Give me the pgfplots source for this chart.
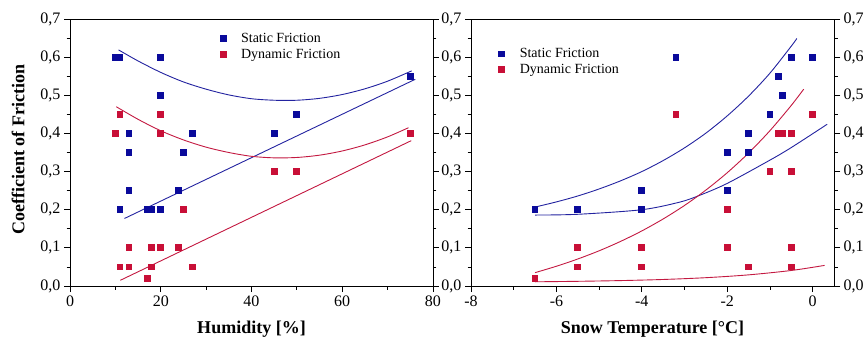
\documentclass[border=0pt]{standalone}
\usepackage{fontspec}
\setmainfont{Liberation Serif}
\usepackage{pgfplots}
\pgfplotsset{compat=1.18}
\definecolor{sblue}{RGB}{10,10,155}
\definecolor{sred}{RGB}{200,15,55}
\definecolor{lblue}{RGB}{35,35,160}
\definecolor{lred}{RGB}{195,25,65}
\pgfplotsset{
 common/.style={
  scale only axis, width=363bp, height=267bp,
  ymin=0, ymax=0.7, ytick={0,0.1,0.2,0.3,0.4,0.5,0.6,0.7}, minor y tick num=1,
  minor x tick num=1,
  tick align=outside, major tick length=6bp, minor tick length=3.5bp,
  xtick pos=bottom, ytick pos=both,
  every tick/.style={black, line width=0.8bp},
  axis line style={line width=0.8bp, black},
  /pgf/number format/assume math mode=true,
  ticklabel style={font=\fontsize{16bp}{19bp}\selectfont},
  yticklabel style={/pgf/number format/.cd, fixed, fixed zerofill, precision=1, use comma},
  xticklabel style={/pgf/number format/.cd, fixed, precision=0},
  label style={font=\fontsize{18bp}{21bp}\selectfont\bfseries},
  xlabel style={at={(axis description cs:0.5,-0.16)}, anchor=center},
  legend style={draw=none, fill=none, font=\fontsize{14bp}{17bp}\selectfont, cells={anchor=west}, row sep=1.2bp},
  legend image code/.code={\draw[##1] plot coordinates {(0.15cm,0cm)}; \path[draw=none, fill=none] (0.15cm,0cm) -- ++(16bp,0bp);},
 },
 sfr/.style={only marks, mark=square*, mark size=2.9bp, mark options={fill=sblue, draw=sblue, line width=0pt}},
 dfr/.style={only marks, mark=square*, mark size=2.9bp, mark options={fill=sred, draw=sred, line width=0pt}},
 bl/.style={lblue, line width=0.9bp, smooth, no markers, forget plot},
 rl/.style={lred, line width=0.9bp, smooth, no markers, forget plot},
}
\begin{document}
\begin{tikzpicture}
% ---------------- Humidity ----------------
\begin{axis}[common, at={(70bp,54bp)}, anchor=south west,
  xmin=0, xmax=80, xtick={0,20,40,60,80},
  yticklabel pos=left,
  xlabel={Humidity [\%]}, ylabel={Coefficient of Friction},
  ylabel style={at={(axis description cs:-0.143,0.51)}, anchor=center},
  legend style={at={(0.405,0.962)}, anchor=north west}]
\addplot[sfr] coordinates {(10,0.6) (11,0.6) (20,0.6) (20,0.5) (13,0.4) (13,0.35) (13,0.25) (11,0.2) (17,0.2) (18,0.2) (20,0.2) (24,0.25) (25,0.35) (27,0.4) (45,0.4) (50,0.45) (75,0.55)};
\addlegendentry{Static Friction}
\addplot[dfr] coordinates {(10,0.4) (11,0.45) (20,0.45) (20,0.4) (25,0.2) (45,0.3) (50,0.3) (75,0.4) (13,0.1) (18,0.1) (20,0.1) (24,0.1) (11,0.05) (13,0.05) (18,0.05) (27,0.05) (17,0.02)};
\addlegendentry{Dynamic Friction}
\addplot[bl] coordinates {(10.7,0.619) (15,0.590) (20,0.560) (25,0.535) (30,0.516) (35,0.501) (40,0.491) (45,0.487) (50,0.487) (55,0.492) (60,0.502) (65,0.517) (70,0.537) (75.3,0.564)};
\addplot[bl] coordinates {(12.0,0.177) (76.1,0.542)};
\addplot[rl] coordinates {(10.2,0.470) (15,0.437) (20,0.407) (25,0.383) (30,0.364) (35,0.350) (40,0.340) (45,0.336) (50,0.337) (55,0.343) (60,0.354) (65,0.370) (70,0.391) (74.6,0.415)};
\addplot[rl] coordinates {(11.1,0.015) (75.2,0.381)};
\end{axis}
% ---------------- Snow temperature ----------------
\begin{axis}[common, at={(471bp,54bp)}, anchor=south west,
  xmin=-8, xmax=0.5, xtick={-8,-6,-4,-2,0},
  yticklabel pos=left,
  xlabel={Snow Temperature [°C]},
  legend style={at={(0.068,0.905)}, anchor=north west}]
\addplot[sfr] coordinates {(-6.5,0.2) (-5.5,0.2) (-4,0.2) (-4,0.25) (-3.2,0.6) (-2,0.35) (-2,0.25) (-1.5,0.4) (-1.5,0.35) (-1,0.45) (-0.8,0.55) (-0.7,0.5) (-0.5,0.6) (0,0.6)};
\addlegendentry{Static Friction}
\addplot[dfr] coordinates {(-6.5,0.02) (-5.5,0.1) (-5.5,0.05) (-4,0.1) (-4,0.05) (-3.2,0.45) (-2,0.2) (-2,0.1) (-1.5,0.05) (-1,0.3) (-0.8,0.4) (-0.7,0.4) (-0.5,0.4) (-0.5,0.3) (-0.5,0.1) (-0.5,0.05) (0,0.45)};
\addlegendentry{Dynamic Friction}
\addplot[bl] coordinates {(-6.5,0.207) (-6,0.2205) (-5.5,0.236) (-5,0.2544) (-4.5,0.2756) (-4,0.300) (-3.5,0.3289) (-3,0.3622) (-2.5,0.4008) (-2,0.446) (-1.5,0.4979) (-1,0.558) (-0.5,0.6289) (-0.37,0.649)};
\addplot[bl] coordinates {(-6.5,0.186) (-5.5,0.188) (-4,0.200) (-3.11,0.220) (-2.64,0.238) (-2,0.269) (-1,0.330) (-0.5,0.363) (0.34,0.424)};
\addplot[rl] coordinates {(-6.5,0.035) (-6,0.0518) (-5.5,0.0708) (-5,0.0923) (-4.5,0.1168) (-4,0.1444) (-3.5,0.1758) (-3,0.2112) (-2.5,0.2515) (-2,0.297) (-1.5,0.3487) (-1,0.4072) (-0.5,0.4735) (-0.21,0.516)};
\addplot[rl] coordinates {(-6.5,0.011) (-5.5,0.0123) (-4.5,0.0142) (-3.5,0.0171) (-2.5,0.0218) (-1.5,0.0292) (-0.5,0.0407) (0.28,0.054)};
\end{axis}
\begin{axis}[common, at={(471bp,54bp)}, anchor=south west,
  xmin=-8, xmax=0.5, ymin=0, ymax=0.7,
  hide x axis, axis y line*=right, ytick pos=right, yticklabel pos=right,
  tick align=outside]
\end{axis}
\pgfresetboundingbox
\useasboundingbox (0,0) rectangle (864bp,340bp);
\end{tikzpicture}
\end{document}
